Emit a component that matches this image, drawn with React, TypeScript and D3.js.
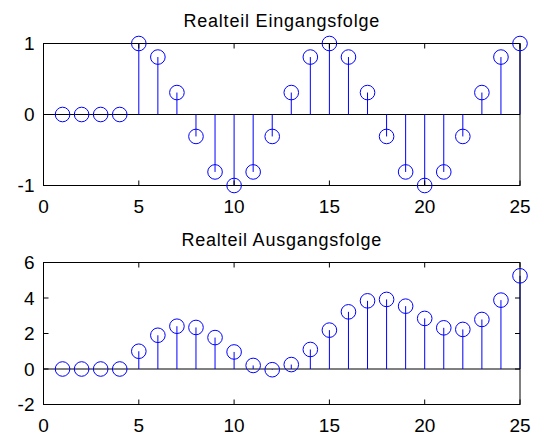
import React from 'react';
import * as d3 from 'd3';

// sample index n = 1..25
const samples = d3.range(1, 26);

// Realteil Eingangsfolge
const inputValues = [
  0, 0, 0, 0,
  1, 0.809, 0.309, -0.309, -0.809, -1, -0.809, -0.309, 0.309, 0.809,
  1, 0.809, 0.309, -0.309, -0.809, -1, -0.809, -0.309, 0.309, 0.809, 1,
];

// Realteil Ausgangsfolge
const outputValues = [
  0, 0, 0, 0,
  1.0, 1.9, 2.41, 2.34, 1.77, 0.96, 0.2, -0.04, 0.25, 1.1,
  2.19, 3.22, 3.84, 3.92, 3.54, 2.85, 2.32, 2.23, 2.79, 3.88, 5.25,
];

const xTicks = [0, 5, 10, 15, 20, 25];
const inputTicks = [-1, 0, 1];
const outputTicks = [-2, 0, 2, 4, 6];

const W = 533;
const H = 436;
const FONT = 'Arial, "Liberation Sans", sans-serif';
const BLUE = '#0000ff';

type StemProps = {
  title: string;
  values: number[];
  yDomain: [number, number];
  yTicks: number[];
  top: number;
  bottom: number;
};

const StemPlot = ({ title, values, yDomain, yTicks, top, bottom }: StemProps) => {
  const left = 43.5;
  const right = 520;
  const x = d3.scaleLinear().domain([0, 25]).range([left, right]);
  const y = d3.scaleLinear().domain(yDomain).range([bottom, top]);
  const tick = 5;

  return (
    <g>
      <text x={(left + right) / 2} y={top - 17} textAnchor="middle"
        fontFamily={FONT} fontSize={18} letterSpacing={0.8} fill="#000">
        {title}
      </text>
      {/* baseline */}
      <line x1={left} x2={right} y1={y(0)} y2={y(0)} stroke="#000" strokeWidth={1} />
      {/* stems */}
      {values.map((v, i) => (
        <line key={'s' + i} x1={x(samples[i])} x2={x(samples[i])} y1={y(0)} y2={y(v)}
          stroke={BLUE} strokeWidth={1} />
      ))}
      {/* box and ticks */}
      <rect x={left} y={top} width={right - left} height={bottom - top}
        fill="none" stroke="#000" strokeWidth={1} />
      {xTicks.map(t => (
        <g key={'x' + t}>
          <line x1={x(t)} x2={x(t)} y1={bottom} y2={bottom - tick} stroke="#000" />
          <line x1={x(t)} x2={x(t)} y1={top} y2={top + tick} stroke="#000" />
          <text x={x(t)} y={bottom + 27} textAnchor="middle" fontFamily={FONT} fontSize={19}>{t}</text>
        </g>
      ))}
      {yTicks.map(t => (
        <g key={'y' + t}>
          <line x1={left} x2={left + tick} y1={y(t)} y2={y(t)} stroke="#000" />
          <line x1={right} x2={right - tick} y1={y(t)} y2={y(t)} stroke="#000" />
          <text x={left - 9} y={y(t)} dy="0.35em" textAnchor="end" fontFamily={FONT} fontSize={19}>{t}</text>
        </g>
      ))}
      {/* markers */}
      {values.map((v, i) => (
        <circle key={'c' + i} cx={x(samples[i])} cy={y(v)} r={7.3}
          fill="none" stroke={BLUE} strokeWidth={1} />
      ))}
    </g>
  );
};

export default function App() {
  return (
    <svg width={W} height={H} style={{ position: 'absolute', left: 0, top: 0, background: '#fff' }}>
      <rect width={W} height={H} fill="#fff" />
      <StemPlot title="Realteil Eingangsfolge" values={inputValues} yDomain={[-1, 1]}
        yTicks={inputTicks} top={43.5} bottom={185.5} />
      <StemPlot title="Realteil Ausgangsfolge" values={outputValues} yDomain={[-2, 6]}
        yTicks={outputTicks} top={262.5} bottom={404.5} />
    </svg>
  );
}
